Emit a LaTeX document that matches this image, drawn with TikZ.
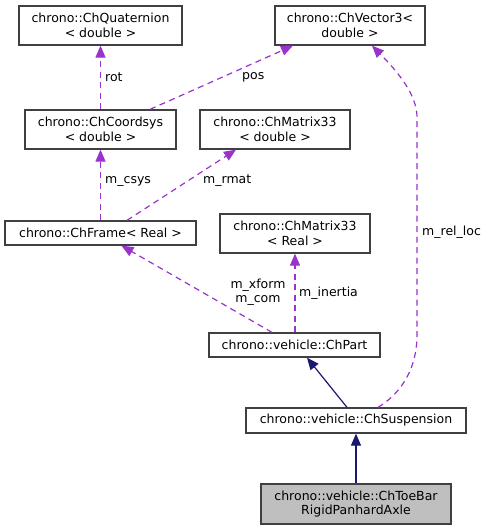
\documentclass[tikz,border=0pt]{standalone}
\usepackage{fontspec}
\setmainfont{DejaVu Sans}
\usetikzlibrary{arrows.meta}
\definecolor{boxborder}{RGB}{64,64,64}
\definecolor{memberc}{RGB}{154,50,205}
\definecolor{inheritc}{RGB}{25,25,112}
\definecolor{focusfill}{RGB}{191,191,191}
\begin{document}
\begin{tikzpicture}[x=1pt,y=-1pt,
  font=\fontsize{12.5}{14.5}\selectfont,
  box/.style={draw=boxborder, fill=white, inner sep=0pt, align=center, line width=1.3pt},
  member/.style={draw=memberc, line width=1.2pt, dash pattern=on 6pt off 4.5pt,
     -{Triangle[length=12pt,width=10pt,fill=memberc]}},
  inherit/.style={draw=inheritc, line width=1.2pt,
     -{Triangle[length=12pt,width=10pt,fill=inheritc]}},
  lbl/.style={inner sep=0pt, anchor=west}
]
\useasboundingbox (0,0) rectangle (491,531);
\fill[white] (0,0) rectangle (491,531);

\node[box, minimum width=163pt, minimum height=39pt] (quat) at (100.5,25.5) {chrono::ChQuaternion\\< double >};
\node[box, minimum width=150pt, minimum height=39pt] (vec) at (350,25.5) {chrono::ChVector3<\\double >};
\node[box, minimum width=151pt, minimum height=39pt] (coord) at (100.5,129.5) {chrono::ChCoordsys\\< double >};
\node[box, minimum width=150pt, minimum height=39pt] (matd) at (275,129.5) {chrono::ChMatrix33\\< double >};
\node[box, minimum width=191pt, minimum height=24pt] (frame) at (100.5,233) {chrono::ChFrame< Real >};
\node[box, minimum width=150pt, minimum height=39pt] (matr) at (295,233.5) {chrono::ChMatrix33\\< Real >};
\node[box, minimum width=171pt, minimum height=24pt] (part) at (294.5,345) {chrono::vehicle::ChPart};
\node[box, minimum width=220pt, minimum height=25pt] (susp) at (356,420.5) {chrono::vehicle::ChSuspension};
\node[box, fill=focusfill, minimum width=190pt, minimum height=40pt] (toe) at (356,504) {chrono::vehicle::ChToeBar\\RigidPanhardAxle};

% member edges
\draw[member] (coord.north) -- (quat.south);
\node[lbl] (lrot) at (105,77) {rot};
\draw[member] ([xshift=49.5pt]coord.north) -- ([xshift=-57pt]vec.south);
\node[lbl] (lpos) at (242,77) {pos};
\draw[member] (frame.north) -- (coord.south);
\node[lbl] (lcsys) at (105,181) {m\_csys};
\draw[member] ([xshift=26.5pt]frame.north) -- ([xshift=-39pt]matd.south);
\node[lbl] (lrmat) at (203,181) {m\_rmat};
\draw[member] ([xshift=-22.5pt]part.north) -- ([xshift=21pt]frame.south);
\node[inner sep=0pt, align=center] (lxform) at (258,292) {m\_xform\\m\_com};
\draw[member] ([xshift=0.5pt]part.north) -- (matr.south);
\node[lbl] (linertia) at (299,293) {m\_inertia};
\draw[member] ([xshift=22pt]susp.north) .. controls (400,394) and (417,370) .. (417,335)
   -- (417,117) .. controls (417,95) and (398,72) .. ([xshift=22pt]vec.south);
\node[lbl] (lrel) at (422,232) {m\_rel\_loc};

% inheritance edges
\draw[inherit] ([xshift=-9pt]susp.north) -- ([xshift=12.5pt]part.south);
\draw[inherit] (toe.north) -- (susp.south);
\end{tikzpicture}
\end{document}
